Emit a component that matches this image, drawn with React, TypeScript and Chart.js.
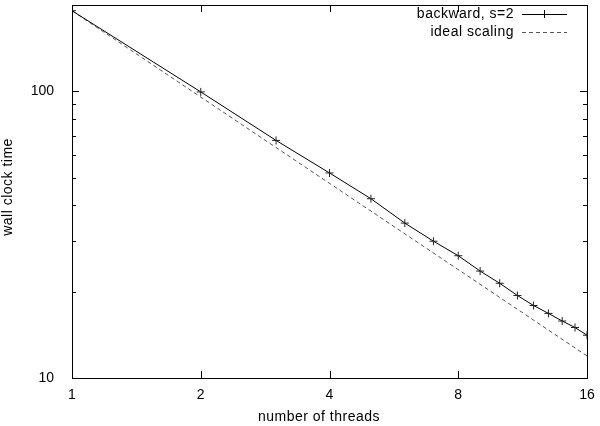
import React, { useEffect, useRef } from "react";
import { Chart, registerables } from "chart.js";

Chart.register(...registerables);

const threads = [1, 2, 3, 4, 5, 6, 7, 8, 9, 10, 11, 12, 13, 14, 15, 16];
const backwardTimes = [191, 99.5, 67.4, 51.9, 42.2, 34.7, 30.0, 26.7, 23.6, 21.4, 19.4, 17.9, 16.8, 15.8, 15.0, 14.1];
const idealThreads = [1, 16];
const idealTimes = [191, 11.94];

const xTickValues = [1, 2, 4, 8, 16];
const yLabelValues = [10, 100];
const yMinorValues = [20, 30, 40, 50, 60, 70, 80, 90, 200];

const seriesNames = ["backward, s=2", "ideal scaling"];
const xTitle = "number of threads";
const yTitle = "wall clock time";

const FAMILY = "'Liberation Sans', Arial, sans-serif";
const FONT = "14px " + FAMILY;

const framePlugin = {
  id: "gnuplotFrame",
  afterDraw(chart: any) {
    const { ctx, chartArea } = chart;
    const { left, right, top, bottom } = chartArea;
    const xs = chart.scales.x;
    const ys = chart.scales.y;
    ctx.save();
    ctx.strokeStyle = "#000";
    ctx.lineWidth = 1;
    ctx.beginPath();
    xTickValues.forEach((v) => {
      const px = Math.round(xs.getPixelForValue(v)) + 0.5;
      ctx.moveTo(px, bottom);
      ctx.lineTo(px, bottom - 7);
      ctx.moveTo(px, top);
      ctx.lineTo(px, top + 7);
    });
    yLabelValues.forEach((v) => {
      const py = Math.round(ys.getPixelForValue(v)) + 0.5;
      ctx.moveTo(left, py);
      ctx.lineTo(left + 7, py);
      ctx.moveTo(right, py);
      ctx.lineTo(right - 7, py);
    });
    yMinorValues.forEach((v) => {
      const py = Math.round(ys.getPixelForValue(v)) + 0.5;
      ctx.moveTo(left, py);
      ctx.lineTo(left + 4, py);
      ctx.moveTo(right, py);
      ctx.lineTo(right - 4, py);
    });
    ctx.stroke();
    ctx.strokeRect(Math.round(left) + 0.5, Math.round(top) + 0.5, Math.round(right - left), Math.round(bottom - top));

    ctx.fillStyle = "#000";
    ctx.font = FONT;
    (ctx as any).letterSpacing = "0.5px";
    ctx.textAlign = "center";
    ctx.textBaseline = "middle";
    ctx.fillText(xTitle, 319, 417);
    ctx.save();
    ctx.translate(8, 187);
    ctx.rotate(-Math.PI / 2);
    ctx.fillText(yTitle, 0, 0);
    ctx.restore();

    const rows = [14, 32];
    ctx.textAlign = "right";
    seriesNames.forEach((name, i) => {
      ctx.fillText(name, 514, rows[i]);
    });
    ctx.strokeStyle = "#000";
    ctx.setLineDash([]);
    ctx.beginPath();
    ctx.moveTo(522, rows[0] + 0.5);
    ctx.lineTo(567, rows[0] + 0.5);
    ctx.moveTo(544.5, rows[0] - 4);
    ctx.lineTo(544.5, rows[0] + 4);
    ctx.stroke();
    ctx.strokeStyle = "#555";
    ctx.setLineDash([4, 3]);
    ctx.beginPath();
    ctx.moveTo(522, rows[1] + 0.5);
    ctx.lineTo(567, rows[1] + 0.5);
    ctx.stroke();
    ctx.restore();
  },
};

export default function App() {
  const ref = useRef<HTMLCanvasElement | null>(null);
  useEffect(() => {
    if (!ref.current) return;
    const chart = new Chart(ref.current, {
      type: "line",
      data: {
        datasets: [
          {
            label: seriesNames[0],
            data: threads.map((t, i) => ({ x: t, y: backwardTimes[i] })),
            borderColor: "#000",
            backgroundColor: "#000",
            borderWidth: 1,
            pointStyle: "cross",
            pointRadius: 4,
            pointBorderWidth: 1,
            pointBorderColor: "#222",
            tension: 0,
          },
          {
            label: seriesNames[1],
            data: idealThreads.map((t, i) => ({ x: t, y: idealTimes[i] })),
            borderColor: "#555",
            borderWidth: 1,
            borderDash: [4, 3],
            pointRadius: 0,
            tension: 0,
          },
        ],
      },
      options: {
        animation: false,
        responsive: false,
        layout: { padding: { left: 0, top: 5, right: 13, bottom: 0 } },
        plugins: { legend: { display: false }, tooltip: { enabled: false } },
        scales: {
          x: {
            type: "logarithmic",
            min: 1,
            max: 16,
            grid: { display: false },
            border: { display: false },
            afterBuildTicks: (scale: any) => {
              scale.ticks = xTickValues.map((v) => ({ value: v }));
            },
            afterFit: (scale: any) => {
              scale.height = 48;
              scale.paddingLeft = 0;
              scale.paddingRight = 0;
              scale.paddingTop = 0;
              scale.paddingBottom = 0;
            },
            ticks: {
              autoSkip: false,
              maxRotation: 0,
              padding: 1,
              color: "#000",
              font: { family: FAMILY, size: 14 },
              callback: (v: any) => String(v),
            },
          },
          y: {
            type: "logarithmic",
            min: 10,
            max: 200,
            grid: { display: false },
            border: { display: false },
            afterBuildTicks: (scale: any) => {
              scale.ticks = yLabelValues.map((v) => ({ value: v }));
            },
            afterFit: (scale: any) => {
              scale.width = 72;
              scale.paddingLeft = 0;
              scale.paddingRight = 0;
              scale.paddingTop = 0;
              scale.paddingBottom = 0;
            },
            ticks: {
              autoSkip: false,
              padding: 10,
              color: "#000",
              font: { family: FAMILY, size: 14 },
              callback: (v: any) => String(v),
            },
          },
        },
      },
      plugins: [framePlugin],
    });
    return () => chart.destroy();
  }, []);
  return (
    <div style={{ position: "absolute", left: 0, top: 0, width: 600, height: 426, background: "#fff" }}>
      <canvas ref={ref} width={600} height={426} />
    </div>
  );
}
